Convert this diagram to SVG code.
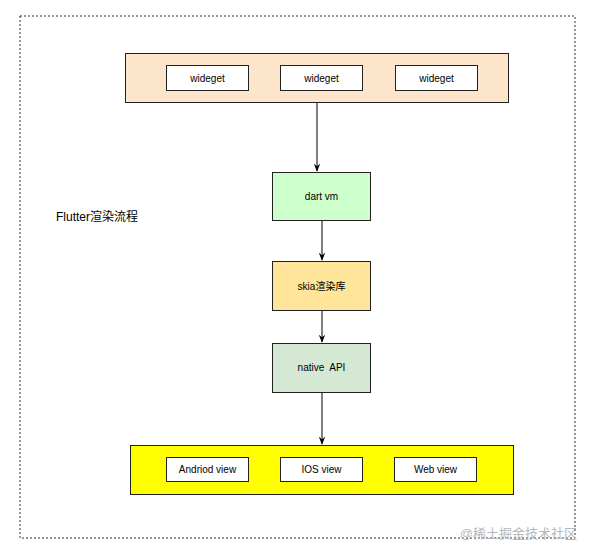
<svg xmlns="http://www.w3.org/2000/svg" width="593" height="555" viewBox="0 0 593 555">
<style>
text{font-family:"Liberation Sans","Noto Sans CJK SC",Arial,sans-serif;fill:#000}
.lbl{font-size:10px;text-anchor:middle;dominant-baseline:central}
.box{stroke:#222;stroke-width:1}
.wbox{fill:#fff;stroke:#222;stroke-width:1}
.edge{stroke:#000;stroke-width:1;fill:none;marker-end:url(#arr)}
</style>
<defs>
<marker id="arr" viewBox="0 0 10 10" refX="9" refY="5" markerWidth="8" markerHeight="8" markerUnits="userSpaceOnUse" orient="auto">
<path d="M0,1 L10,5 L0,9 L3,5 Z" fill="#000"/>
</marker>
</defs>
<rect width="593" height="555" fill="#fff"/>
<rect x="20" y="16" width="555" height="522" fill="none" stroke="#333" stroke-width="1" stroke-dasharray="2,2"/>
<text x="56" y="217" font-size="12" dominant-baseline="central">Flutter渲染流程</text>
<g id="connectors">
<line class="edge" x1="317" y1="102" x2="317" y2="171"/>
<line class="edge" x1="322" y1="220" x2="322" y2="260"/>
<line class="edge" x1="322" y1="310" x2="322" y2="342"/>
<line class="edge" x1="322" y1="392" x2="322" y2="444"/>
</g>
<g id="widgets">
<rect class="box" x="125.5" y="53.5" width="383" height="49" fill="#FDE5CC"/>
<g id="w1"><rect class="wbox" x="166.5" y="65.5" width="82" height="25"/><text class="lbl" x="207.5" y="78">wideget</text></g>
<g id="w2"><rect class="wbox" x="280.5" y="65.5" width="82" height="25"/><text class="lbl" x="321.5" y="78">wideget</text></g>
<g id="w3"><rect class="wbox" x="395.5" y="65.5" width="82" height="25"/><text class="lbl" x="436.5" y="78">wideget</text></g>
</g>
<g id="dartvm"><rect class="box" x="272.5" y="172.5" width="98" height="48" fill="#CCFFCC"/><text class="lbl" x="321.5" y="196.5">dart vm</text></g>
<g id="skia"><rect class="box" x="272.5" y="261.5" width="98" height="49" fill="#FFE599"/><text class="lbl" x="321.5" y="286">skia渲染库</text></g>
<g id="native"><rect class="box" x="272.5" y="343.5" width="98" height="49" fill="#D5E8D4"/><text class="lbl" x="321.5" y="367">native&#160; API</text></g>
<g id="views">
<rect class="box" x="130.5" y="445.5" width="383" height="49" fill="#FFFF00"/>
<g id="v1"><rect class="wbox" x="166.5" y="457.5" width="82" height="24"/><text class="lbl" x="207.5" y="469.5">Andriod view</text></g>
<g id="v2"><rect class="wbox" x="280.5" y="457.5" width="82" height="24"/><text class="lbl" x="321.5" y="469.5">IOS view</text></g>
<g id="v3"><rect class="wbox" x="394.5" y="457.5" width="82" height="24"/><text class="lbl" x="435.5" y="469.5">Web view</text></g>
</g>
<text x="577" y="533" font-size="13" text-anchor="end" dominant-baseline="central" style="fill:#b8b8b8">@稀土掘金技术社区</text>
</svg>
